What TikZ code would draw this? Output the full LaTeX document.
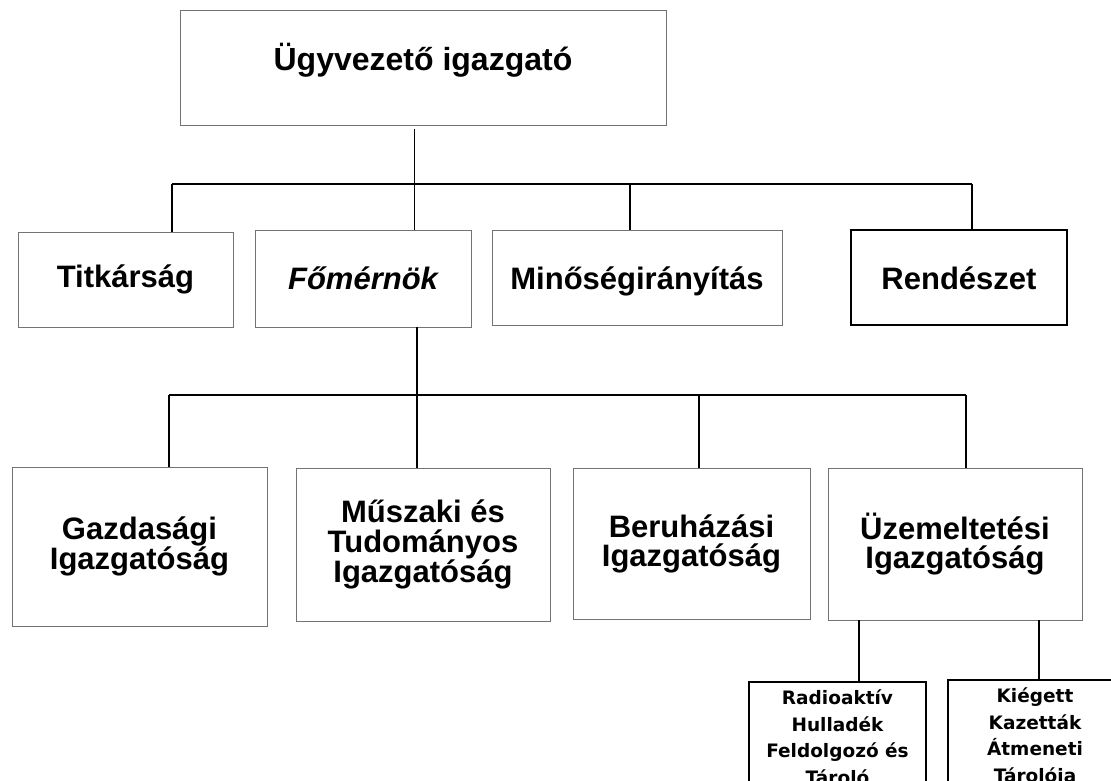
\documentclass[tikz,border=0pt]{standalone}
\usepackage{fontspec}
\setmainfont{Liberation Sans}
\newfontfamily\petitefonte{DejaVu Sans}
\usetikzlibrary{calc}

\tikzset{
  boite/.style={draw=black!55, line width=0.9pt, inner sep=0pt, outer sep=0pt, align=center,
    font=\fontsize{31}{29}\selectfont\bfseries},
  uneligne/.style={text height=23, text depth=2},
  boitebas/.style={draw=black, line width=1.6pt, inner xsep=0pt, inner ysep=8pt, outer sep=0pt,
    align=center, anchor=north, font=\petitefonte\fontsize{18.5}{26.5}\selectfont\bfseries},
  liaison/.style={draw=black, line width=1.3pt},
}

\begin{document}
\begin{tikzpicture}[x=1pt,y=-1pt]
	\useasboundingbox (0,0) rectangle (1111,780);
	% hauteurs des barres horizontales
	\pgfmathsetmacro{\barreA}{184}
	\pgfmathsetmacro{\barreB}{395}

	% direction
	\node[boite, minimum width=486, minimum height=115, text height=22, text depth=17, font=\fontsize{32}{29}\selectfont\bfseries] (igazgato) at (423,67.5) {Ügyvezető igazgató};

	% premier niveau
	\node[boite, uneligne, text depth=7, minimum width=215, minimum height=95] (titkarsag) at (125.5,279.5) {Titkárság};
	\node[boite, uneligne, minimum width=216, minimum height=97, font=\fontsize{31}{29}\selectfont\bfseries\itshape] (fomernok) at (363,278.5) {Főmérnök};
	\node[boite, uneligne, text depth=0, minimum width=290, minimum height=95] (minoseg) at (637,277.5) {Minőségirányítás};
	\node[boite, uneligne, text depth=0, draw=black, line width=1.6pt, minimum width=216, minimum height=95] (rendeszet) at (959,277.5) {Rendészet};

	% igazgatóságok
	\node[boite, minimum width=255, minimum height=159] (gazdasagi) at (139.5,546.5) {Gazdasági\\Igazgatóság};
	\node[boite, minimum width=254, minimum height=153, font=\fontsize{31}{30}\selectfont\bfseries] (muszaki) at (423,544.5) {Műszaki és\\Tudományos\\Igazgatóság};
	\node[boite, minimum width=237, minimum height=151] (beruhazasi) at (691.5,543.5) {Beruházási\\Igazgatóság};
	\node[boite, minimum width=254, minimum height=152] (uzemeltetesi) at (955,544) {Üzemeltetési\\Igazgatóság};

	% tárolók (coupés par le bas de la page)
	\node[boitebas, minimum width=177] (radioaktiv) at (837.5,682) {Radioaktív\\Hulladék\\Feldolgozó és\\Tároló};
	\node[boitebas, minimum width=174] (kiegett) at (1035,680) {Kiégett\\Kazetták\\Átmeneti\\Tárolója};

	% barre du premier niveau
	\coordinate (ij) at (414,129);
	\coordinate (b1g) at (172,\barreA);
	\coordinate (b1c) at (630,\barreA);
	\coordinate (b1d) at (972,\barreA);
	\draw[liaison] (b1g) -- (b1d);
	\draw[liaison, line width=0.9pt] (ij) -- (ij |- fomernok.north);
	\draw[liaison] (b1g) -- (b1g |- titkarsag.north);
	\draw[liaison] (b1c) -- (b1c |- minoseg.north);
	\draw[liaison] (b1d) -- (b1d |- rendeszet.north);

	% barre du second niveau
	\coordinate (b2g) at (169,\barreB);
	\coordinate (b2a) at (417,\barreB);
	\coordinate (b2c) at (699,\barreB);
	\coordinate (b2d) at (966,\barreB);
	\draw[liaison] (b2g) -- (b2d);
	\draw[liaison] (b2a |- fomernok.south) -- (b2a) -- (b2a |- muszaki.north);
	\draw[liaison] (b2g) -- (b2g |- gazdasagi.north);
	\draw[liaison] (b2c) -- (b2c |- beruhazasi.north);
	\draw[liaison] (b2d) -- (b2d |- uzemeltetesi.north);

	% liaisons vers les tárolók
	\coordinate (ua) at (859,620);
	\coordinate (ub) at (1039,620);
	\draw[liaison, line width=1.6pt] (ua) -- (ua |- radioaktiv.north);
	\draw[liaison, line width=1.6pt] (ub) -- (ub |- kiegett.north);
\end{tikzpicture}
\end{document}
